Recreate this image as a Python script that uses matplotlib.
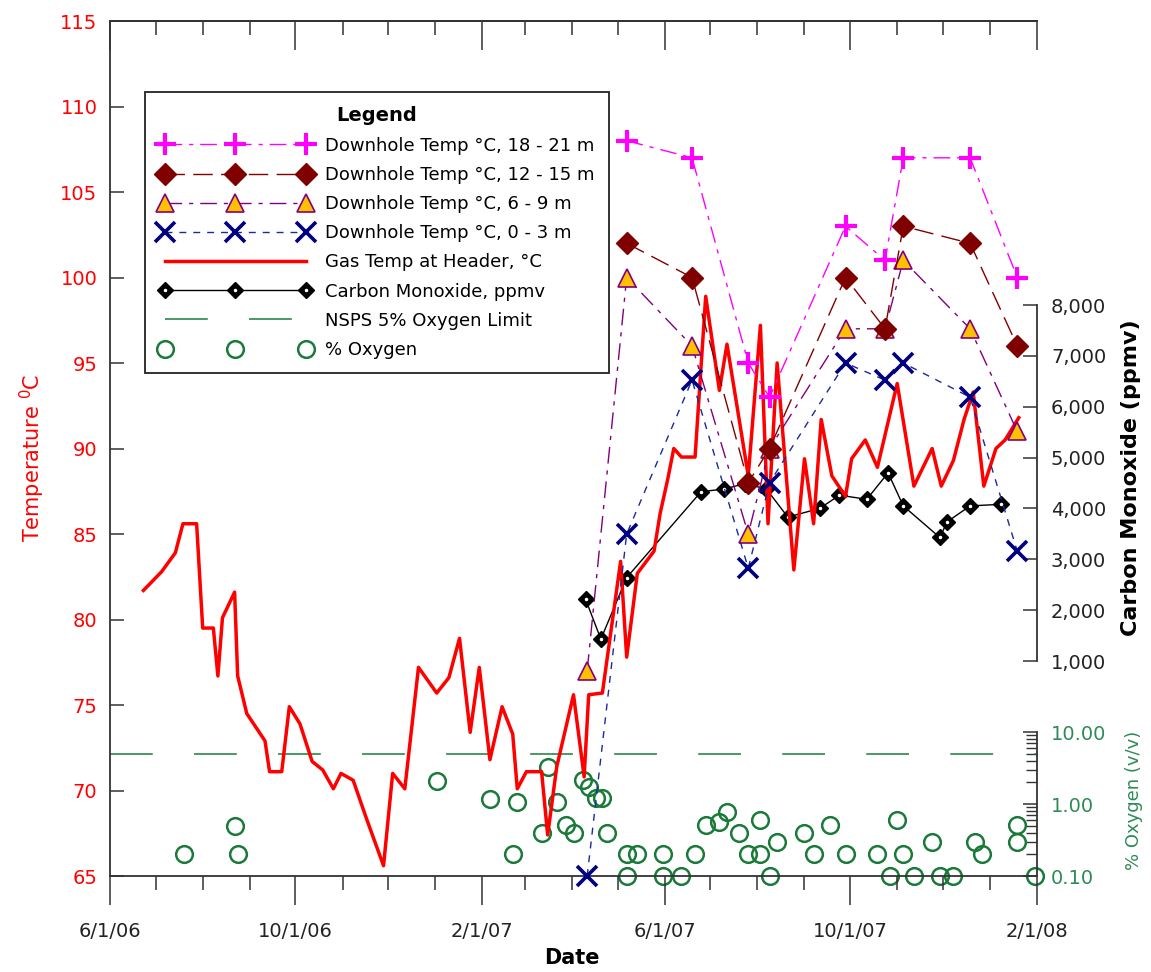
import matplotlib
matplotlib.use('Agg')
import matplotlib.pyplot as plt
import matplotlib.dates as mdates
import matplotlib.ticker as mticker
import numpy as np
import pandas as pd

plt.rcParams['font.family'] = ['DejaVu Sans']

# ---------------- data ----------------
gas_dates = ['2006-06-23', '2006-07-05', '2006-07-14', '2006-07-19', '2006-07-28', '2006-08-01',
             '2006-08-08', '2006-08-11', '2006-08-14', '2006-08-22', '2006-08-24', '2006-08-30',
             '2006-09-05', '2006-09-11', '2006-09-14', '2006-09-22', '2006-09-27', '2006-10-04',
             '2006-10-12', '2006-10-19', '2006-10-26', '2006-10-31', '2006-11-08', '2006-11-17',
             '2006-11-28', '2006-12-04', '2006-12-12', '2006-12-21', '2007-01-02', '2007-01-10',
             '2007-01-17', '2007-01-24', '2007-01-30', '2007-02-06', '2007-02-14', '2007-02-21',
             '2007-02-24', '2007-03-02', '2007-03-12', '2007-03-16', '2007-03-22', '2007-04-02',
             '2007-04-09', '2007-04-12', '2007-04-21', '2007-05-03', '2007-05-07', '2007-05-14',
             '2007-05-25', '2007-05-29', '2007-06-03', '2007-06-07', '2007-06-12', '2007-06-21',
             '2007-06-28', '2007-07-07', '2007-07-12', '2007-07-26', '2007-08-03', '2007-08-08',
             '2007-08-14', '2007-08-25', '2007-09-01', '2007-09-07', '2007-09-12', '2007-09-19',
             '2007-09-28', '2007-10-02', '2007-10-11', '2007-10-19', '2007-10-28', '2007-11-01',
             '2007-11-12', '2007-11-24', '2007-11-30', '2007-12-08', '2007-12-15', '2007-12-21',
             '2007-12-28', '2008-01-05', '2008-01-11', '2008-01-20']
gas_temp = [81.7, 82.8, 83.9, 85.6, 85.6, 79.5, 79.5, 76.7, 80.1, 81.6,
            76.7, 74.5, 73.7, 72.9, 71.1, 71.1, 74.9, 73.9, 71.7, 71.2,
            70.1, 71.0, 70.6, 68.3, 65.6, 71.0, 70.1, 77.2, 75.7, 76.6,
            78.9, 73.4, 77.2, 71.8, 74.9, 73.3, 70.1, 71.1, 71.1, 67.4,
            71.4, 75.6, 70.8, 75.6, 75.7, 83.4, 77.8, 82.7, 84.0, 86.2,
            88.2, 90.0, 89.5, 89.5, 98.9, 93.4, 96.1, 88.4, 97.2, 85.6,
            95.0, 82.9, 89.4, 85.6, 91.7, 88.4, 87.2, 89.4, 90.5, 88.9,
            92.3, 93.8, 87.8, 90.0, 87.8, 89.3, 91.7, 93.3, 87.8, 90.0, 90.5, 91.8]

dh_dates = ['2007-04-11', '2007-05-07', '2007-06-19', '2007-07-26', '2007-08-09',
            '2007-09-28', '2007-10-24', '2007-11-05', '2007-12-19', '2008-01-19']
temp_18_21 = [np.nan, 108, 107, 95, 93, 103, 101, 107, 107, 100]
temp_12_15 = [np.nan, 102, 100, 88, 90, 100, 97, 103, 102, 96]
temp_6_9 = [77, 100, 96, 85, 90, 97, 97, 101, 97, 91]
temp_0_3 = [65, 85, 94, 83, 88, 95, 94, 95, 93, 84]

co_dates = ['2007-04-10', '2007-04-20', '2007-05-07', '2007-06-25', '2007-07-10', '2007-07-24',
            '2007-08-07', '2007-08-21', '2007-09-11', '2007-09-24', '2007-10-12', '2007-10-26',
            '2007-11-05', '2007-11-29', '2007-12-04', '2007-12-19', '2008-01-08']
co_ppmv = [2210, 1430, 2640, 4330, 4380, 4490, 4380, 3830, 4000, 4260, 4180, 4700,
           4050, 3430, 3740, 4050, 4080]

o2_dates = ['2006-07-20', '2006-08-22', '2006-08-24', '2007-01-02', '2007-02-06', '2007-02-21',
            '2007-02-24', '2007-03-12', '2007-03-16', '2007-03-22', '2007-03-28', '2007-04-02',
            '2007-04-08', '2007-04-12', '2007-04-17', '2007-04-21', '2007-04-24', '2007-05-07',
            '2007-05-07', '2007-05-14', '2007-05-31', '2007-05-31', '2007-06-12', '2007-06-21',
            '2007-06-28', '2007-07-07', '2007-07-12', '2007-07-20', '2007-07-26', '2007-08-03',
            '2007-08-03', '2007-08-09', '2007-08-14', '2007-09-01', '2007-09-07', '2007-09-18',
            '2007-09-28', '2007-10-19', '2007-10-27', '2007-11-01', '2007-11-05', '2007-11-12',
            '2007-11-24', '2007-11-29', '2007-12-08', '2007-12-22', '2007-12-27', '2008-01-19',
            '2008-01-19', '2008-01-31']
o2_pct = [0.2, 0.5, 0.2, 2.1, 1.16, 0.2, 1.08, 0.39, 3.3, 1.08,
          0.51, 0.39, 2.15, 1.74, 1.2, 1.2, 0.4, 0.2, 0.1, 0.2,
          0.2, 0.1, 0.1, 0.2, 0.51, 0.57, 0.78, 0.4, 0.2, 0.2,
          0.59, 0.1, 0.3, 0.4, 0.2, 0.51, 0.2, 0.2, 0.1, 0.59,
          0.2, 0.1, 0.3, 0.1, 0.1, 0.3, 0.2, 0.51, 0.3, 0.1]

nsps_o2_limit = 5.0

x_range = ['2006-06-01', '2008-02-01']
temp_ticks = [65, 70, 75, 80, 85, 90, 95, 100, 105, 110, 115]
co_ticks = [1000, 2000, 3000, 4000, 5000, 6000, 7000, 8000]
o2_ticks = [0.1, 1.0, 10.0]
o2_tick_labels = ['0.10', '1.00', '10.00']

labels = ['Downhole Temp °C, 18 - 21 m', 'Downhole Temp °C, 12 - 15 m',
          'Downhole Temp °C, 6 - 9 m', 'Downhole Temp °C, 0 - 3 m',
          'Gas Temp at Header, °C', 'Carbon Monoxide, ppmv',
          'NSPS 5% Oxygen Limit', '% Oxygen']

# ---------------- layout (pixels) ----------------
W, H = 1151, 972
PX_L, PX_R, PX_B, PX_T = 110, 1037, 876, 21
CO_LO_PX, CO_HI_PX = 661, 305          # pixel rows of 1,000 and 8,000 ppmv
O2_DECADE_PX = 72                      # pixels per decade, 0.10 at axis bottom

RED = '#FF0000'
GREEN = '#1B7A3A'
GREEN_TXT = '#2E8B57'
SPINE = '#333333'

fig = plt.figure(figsize=(W / 100, H / 100), dpi=100)
fig.patch.set_facecolor('white')
ax = fig.add_axes([PX_L / W, 1 - PX_B / H, (PX_R - PX_L) / W, (PX_B - PX_T) / H])
ax_o2 = ax.twinx()
ax_co = ax.twinx()
ax.set_zorder(3)
ax_co.set_zorder(2)
ax_o2.set_zorder(1)
ax.patch.set_visible(False)

gd = pd.to_datetime(gas_dates)
dd = pd.to_datetime(dh_dates)
cd = pd.to_datetime(co_dates)
od = pd.to_datetime(o2_dates)
xr = pd.to_datetime(x_range)

# ---- oxygen (log axis) ----
o2_line, = ax_o2.plot(od, o2_pct, linestyle='none', marker='o', ms=12, mfc='none',
                      mec=GREEN, mew=1.8, clip_on=False)
nsps_line = ax_o2.axhline(nsps_o2_limit, color=GREEN, lw=1.1, linestyle=(0, (28, 27)))
ax_o2.set_yscale('log')
dec_total = (PX_B - PX_T) / O2_DECADE_PX
ax_o2.set_ylim(0.1, 10 ** (-1 + dec_total))
ax_o2.yaxis.set_major_locator(mticker.FixedLocator(o2_ticks))
ax_o2.yaxis.set_major_formatter(mticker.FixedFormatter(o2_tick_labels))
minors = [m * 10.0 ** e for e in (-1, 0) for m in range(2, 10)]
ax_o2.yaxis.set_minor_locator(mticker.FixedLocator(minors))
ax_o2.yaxis.set_minor_formatter(mticker.NullFormatter())
ax_o2.tick_params(axis='y', which='major', direction='in', length=10, width=1.1,
                  color=SPINE, labelsize=14, labelcolor=GREEN_TXT, pad=10,
                  left=False, right=True, labelleft=False, labelright=True)
ax_o2.tick_params(axis='y', which='minor', direction='in', length=8, width=1.0,
                  color=SPINE, left=False, right=True)
for s in ['left', 'top', 'bottom']:
    ax_o2.spines[s].set_visible(False)
ax_o2.spines['right'].set_bounds(0.1, 10)
ax_o2.spines['right'].set_color(SPINE)
ax_o2.spines['right'].set_linewidth(1.3)

# ---- carbon monoxide ----
per_px = (co_ticks[-1] - co_ticks[0]) / (CO_LO_PX - CO_HI_PX)
co_bottom = co_ticks[0] - (PX_B - CO_LO_PX) * per_px
co_top = co_ticks[-1] + (CO_HI_PX - PX_T) * per_px
co_line, = ax_co.plot(cd, co_ppmv, color='black', lw=1.0, marker='D', ms=8.5,
                      mfc='black', mec='black', zorder=3)
co_dots, = ax_co.plot(cd, co_ppmv, linestyle='none', marker='.', ms=3, color='white', zorder=4)
ax_co.set_ylim(co_bottom, co_top)
ax_co.yaxis.set_major_locator(mticker.FixedLocator(co_ticks))
ax_co.yaxis.set_major_formatter(mticker.FuncFormatter(lambda v, p: f'{v:,.0f}'))
ax_co.tick_params(axis='y', direction='in', length=10, width=1.1, color=SPINE,
                  labelsize=14, labelcolor='#222222', pad=10,
                  left=False, right=True, labelleft=False, labelright=True)
for s in ['left', 'top', 'bottom']:
    ax_co.spines[s].set_visible(False)
ax_co.spines['right'].set_bounds(co_ticks[0], co_ticks[-1])
ax_co.spines['right'].set_color(SPINE)
ax_co.spines['right'].set_linewidth(1.3)

# ---- temperatures ----
gas_line, = ax.plot(gd, gas_temp, color=RED, lw=2.5, zorder=2)
l6, = ax.plot(dd, temp_6_9, color='#800080', lw=1.0, linestyle=(0, (12, 5, 3, 5)),
              marker='^', ms=13, mfc='#FFC000', mec='#800080', mew=1.2, zorder=3, clip_on=False)
l12, = ax.plot(dd, temp_12_15, color='#800000', lw=1.0, linestyle=(0, (14, 6)),
               marker='D', ms=11, mfc='#800000', mec='#800000', zorder=4)
l18, = ax.plot(dd, temp_18_21, color='#FF00FF', lw=1.0, linestyle=(0, (12, 5, 3, 5)),
               marker='+', ms=16, mew=3, mec='#FF00FF', zorder=5)
l0, = ax.plot(dd, temp_0_3, color='#1A2A9A', lw=1.0, linestyle=(0, (5, 5)),
              marker='x', ms=15, mew=2.6, mec='#000080', zorder=6, clip_on=False)

ax.set_xlim(xr[0], xr[1])
ax.set_ylim(temp_ticks[0], temp_ticks[-1])
ax.yaxis.set_major_locator(mticker.FixedLocator(temp_ticks))
ax.tick_params(axis='y', direction='in', length=10, width=1.1, color=SPINE,
               labelsize=14, labelcolor=RED, pad=9, right=False)
ax.xaxis.set_major_locator(mdates.MonthLocator(bymonth=[2, 6, 10]))
ax.xaxis.set_minor_locator(mdates.MonthLocator())
ax.xaxis.set_major_formatter(mticker.FuncFormatter(
    lambda v, p: (lambda d: f'{d.month}/{d.day}/{d:%y}')(mdates.num2date(v))))
ax.tick_params(axis='x', which='major', direction='out', length=21, width=1.1,
               color=SPINE, labelsize=14, labelcolor='#222222', pad=12)
ax.tick_params(axis='x', which='minor', direction='out', length=10, width=1.1, color=SPINE)
ax.spines['right'].set_visible(False)
for s in ['left', 'bottom', 'top']:
    ax.spines[s].set_color(SPINE)
    ax.spines[s].set_linewidth(1.3)

sec = ax.secondary_xaxis('top')
sec.xaxis.set_major_locator(mdates.MonthLocator(bymonth=[2, 6, 10]))
sec.xaxis.set_minor_locator(mdates.MonthLocator())
sec.xaxis.set_major_formatter(mticker.NullFormatter())
sec.tick_params(axis='x', which='major', direction='in', length=21, width=1.1, color=SPINE,
                labeltop=False)
sec.tick_params(axis='x', which='minor', direction='in', length=10, width=1.1, color=SPINE)
sec.spines['top'].set_color(SPINE)
sec.spines['top'].set_linewidth(1.3)

# ---- axis titles ----
fig.text(32 / W, 1 - 458 / H, 'Temperature $^{0}$C', rotation=90, color=RED,
         fontsize=15, ha='center', va='center')
fig.text(572 / W, 1 - 958 / H, 'Date', fontsize=15, fontweight='bold',
         ha='center', va='center')
fig.text(1131 / W, 1 - 478 / H, 'Carbon Monoxide (ppmv)', rotation=90, fontsize=16,
         fontweight='bold', ha='center', va='center')
fig.text(1134 / W, 1 - 800 / H, '% Oxygen (v/v)', rotation=90, fontsize=13,
         color=GREEN_TXT, ha='center', va='center')

# ---- legend ----
handles = [l18, l12, l6, l0, gas_line, (co_line, co_dots), nsps_line, o2_line]
leg = ax.legend(handles, labels, loc='upper left',
                bbox_to_anchor=(145 / W, 1 - 92 / H), bbox_transform=fig.transFigure,
                borderaxespad=0, title='Legend',
                title_fontproperties={'weight': 'bold', 'size': 14},
                fontsize=13, numpoints=3, handlelength=8.4, handletextpad=0.75,
                labelspacing=0.62, borderpad=0.8, fancybox=False, framealpha=1,
                edgecolor='#222222')
leg.get_frame().set_linewidth(1.3)

fig.savefig('out.png', dpi=100, facecolor='white')
